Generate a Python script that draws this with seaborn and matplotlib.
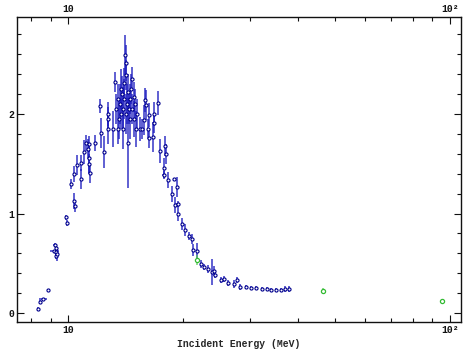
import numpy as np
import pandas as pd
import matplotlib
matplotlib.use('Agg')
import matplotlib.pyplot as plt
import matplotlib.ticker as mticker
import seaborn as sns

sns.set_style('ticks')
plt.rcParams['font.family'] = ['Liberation Mono', 'DejaVu Sans Mono']
plt.rcParams['font.weight'] = 'bold'

# measured cross sections (MeV, barn)
energy = [8.33, 8.47, 8.60, 8.88, 9.25, 9.30, 9.20, 9.33, 9.28, 9.38,
          9.90, 9.95, 10.20, 10.34, 10.43, 10.34, 10.56, 10.81, 10.81, 11.03,
          11.12, 11.32, 11.30, 11.34, 11.36, 11.43, 11.75, 12.22, 12.43, 12.14,
          12.70, 12.74, 12.76, 13.10, 13.30, 13.50, 13.40, 13.55, 13.60, 13.70,
          13.75, 13.80, 13.90, 13.85, 13.95, 14.00, 14.05, 14.10, 14.15, 14.20,
          14.20, 14.30, 14.35, 14.40, 14.45, 14.50, 14.55, 14.60, 14.70, 14.75,
          14.85, 14.90, 15.00, 15.10, 15.20, 15.40, 15.60, 15.90, 16.00, 15.80,
          16.20, 16.30, 16.35, 16.80, 16.80, 16.75, 17.20, 17.40, 17.95, 18.05,
          17.85, 17.85, 18.30, 18.95, 18.70, 19.30, 19.10, 19.40, 19.40, 19.90,
          20.30, 20.80, 21.10, 21.30, 21.80, 22.30, 22.70, 23.30, 23.80, 24.20,
          24.30, 25.20, 25.70, 26.30, 27.20, 27.80, 28.20, 29.20, 30.20, 31.10,
          32.20, 33.20, 34.10, 35.10, 36.20, 37.10, 38.00]
sigma = [0.04, 0.11, 0.14, 0.23, 0.68, 0.65, 0.62, 0.61, 0.57, 0.59,
         0.96, 0.90, 1.30, 1.13, 1.08, 1.40, 1.49, 1.35, 1.51, 1.62,
         1.71, 1.70, 1.65, 1.56, 1.50, 1.41, 1.71, 1.81, 1.62, 2.08,
         1.95, 1.85, 2.00, 1.85, 2.32, 1.85, 2.05, 2.15, 1.95, 2.10,
         2.25, 2.00, 1.85, 2.20, 2.05, 2.15, 2.31, 2.59, 2.39, 2.51,
         2.00, 2.10, 2.22, 1.71, 2.05, 2.15, 1.95, 2.25, 2.35, 2.05,
         2.17, 1.95, 2.10, 1.85, 2.00, 1.85, 1.85, 2.14, 2.09, 1.94,
         1.85, 1.99, 1.76, 2.00, 1.91, 1.77, 2.11, 1.63, 1.68, 1.60,
         1.46, 1.39, 1.34, 1.35, 1.20, 1.27, 1.09, 1.10, 1.00, 0.89,
         0.83, 0.77, 0.74, 0.63, 0.62, 0.49, 0.46, 0.44, 0.415, 0.425,
         0.38, 0.33, 0.34, 0.30, 0.29, 0.33, 0.265, 0.26, 0.255, 0.255,
         0.24, 0.24, 0.23, 0.23, 0.23, 0.24, 0.24]
dsigma = [0.02, 0.02, 0.01, 0.01, 0.02, 0.03, 0.01, 0.04, 0.03, 0.07,
          0.03, 0.03, 0.05, 0.08, 0.06, 0.08, 0.10, 0.10, 0.08, 0.12,
          0.08, 0.08, 0.10, 0.15, 0.10, 0.10, 0.08, 0.15, 0.16, 0.07,
          0.12, 0.15, 0.12, 0.18, 0.10, 0.15, 0.15, 0.15, 0.20, 0.20,
          0.20, 0.15, 0.20, 0.18, 0.22, 0.20, 0.15, 0.20, 0.15, 0.18,
          0.20, 0.20, 0.18, 0.45, 0.15, 0.15, 0.20, 0.15, 0.12, 0.15,
          0.15, 0.18, 0.15, 0.18, 0.15, 0.12, 0.10, 0.12, 0.15, 0.15,
          0.10, 0.12, 0.10, 0.12, 0.10, 0.15, 0.12, 0.12, 0.10, 0.10,
          0.10, 0.04, 0.08, 0.01, 0.08, 0.10, 0.08, 0.03, 0.08, 0.06,
          0.06, 0.04, 0.05, 0.06, 0.08, 0.04, 0.03, 0.04, 0.13, 0.05,
          0.03, 0.03, 0.03, 0.03, 0.04, 0.03, 0.03, 0.02, 0.02, 0.02,
          0.02, 0.02, 0.02, 0.02, 0.02, 0.03, 0.03]
denergy = [0, 0, 0.2, 0.08, 0.12, 0, 0.25, 0, 0, 0,
           0, 0, 0, 0, 0, 0, 0, 0, 0, 0,
           0, 0, 0, 0, 0, 0, 0, 0, 0, 0.1,
           0, 0, 0, 0, 0.12, 0, 0, 0, 0, 0,
           0, 0.1, 0, 0, 0, 0.1, 0, 0, 0, 0,
           0, 0, 0, 0, 0, 0.12, 0, 0, 0, 0,
           0, 0, 0.1, 0, 0, 0, 0.15, 0, 0, 0,
           0, 0, 0.15, 0, 0, 0, 0.1, 0, 0, 0,
           0, 0.25, 0, 0, 0, 0, 0, 0.2, 0, 0,
           0, 0, 0, 0, 0, 0, 0, 0, 0, 0,
           0, 0, 0, 0, 0, 0, 0, 0, 0, 0,
           0, 0, 0, 0, 0, 0, 0]

# second data set (green)
energy2 = [21.8, 46.5, 95.6]
sigma2 = [0.53, 0.225, 0.12]
dsigma2 = [0.05, 0.03, 0.01]

df = pd.DataFrame({'E': energy, 'sig': sigma})
df2 = pd.DataFrame({'E': energy2, 'sig': sigma2})

fig = plt.figure(figsize=(4.65, 3.51), dpi=100)
ax = fig.add_axes([0.0372, 0.0818, 0.9542, 0.869])

ax.errorbar(energy, sigma, yerr=dsigma, xerr=denergy, fmt='none',
            ecolor='#1c1cc0', elinewidth=1.4, alpha=0.7, capsize=0, zorder=2)
sns.scatterplot(data=df, x='E', y='sig', marker='o', s=5, facecolor='white',
                edgecolor='#00008c', linewidth=0.8, ax=ax, zorder=3)

ax.errorbar(energy2, sigma2, yerr=dsigma2, fmt='none',
            ecolor='#55cc55', elinewidth=1.3, alpha=0.7, capsize=0, zorder=2)
sns.scatterplot(data=df2, x='E', y='sig', marker='o', s=9, facecolor='white',
                edgecolor='#33bb33', linewidth=0.9, ax=ax, zorder=3)

ax.set_xscale('log')
ax.set_xlim(7.365, 107.1)
ax.set_ylim(-0.093, 2.972)

ax.xaxis.set_major_locator(mticker.FixedLocator([10, 100]))
ax.xaxis.set_major_formatter(mticker.FixedFormatter(['10', '10²']))
ax.xaxis.set_minor_locator(mticker.LogLocator(base=10, subs=np.arange(2, 10)))
ax.xaxis.set_minor_formatter(mticker.NullFormatter())
ax.yaxis.set_major_locator(mticker.MultipleLocator(1))
ax.yaxis.set_major_formatter(mticker.FormatStrFormatter('%d'))
ax.yaxis.set_minor_locator(mticker.MultipleLocator(0.2))

ax.tick_params(which='both', direction='in', top=True, right=True,
               labeltop=True, labelright=False, colors='#111111',
               labelsize=7, width=0.8)
ax.tick_params(which='major', length=5, pad=2)
ax.tick_params(which='minor', length=3)
for lab in ax.get_xticklabels() + ax.get_yticklabels():
    lab.set_fontweight('bold')

for s in ax.spines.values():
    s.set_linewidth(1.0)
    s.set_color('#111111')

ax.set_xlabel('Incident Energy (MeV)', fontsize=7, fontweight='bold', labelpad=3)
ax.set_ylabel('')

fig.savefig('out.png', dpi=100)
